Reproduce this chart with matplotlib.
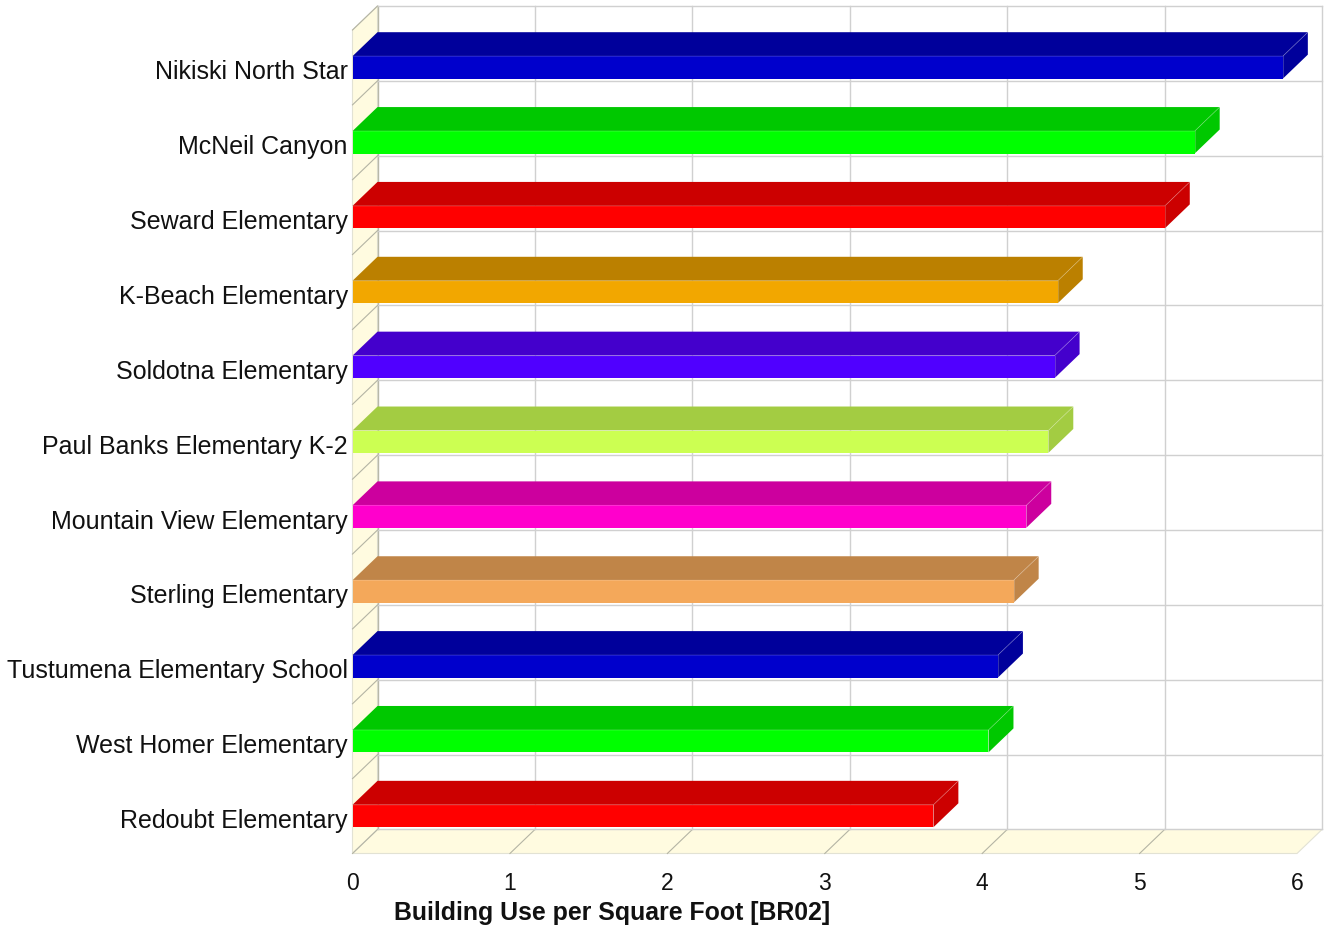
import matplotlib
matplotlib.use('Agg')
import matplotlib.pyplot as plt
from matplotlib.patches import Polygon
from matplotlib.transforms import ScaledTranslation

schools = ['Redoubt Elementary', 'West Homer Elementary', 'Tustumena Elementary School',
           'Sterling Elementary', 'Mountain View Elementary', 'Paul Banks Elementary K-2',
           'Soldotna Elementary', 'K-Beach Elementary', 'Seward Elementary',
           'McNeil Canyon', 'Nikiski North Star']
building_use = [3.69, 4.04, 4.10, 4.20, 4.28, 4.42, 4.46, 4.48, 5.16, 5.35, 5.91]
x_ticks = [0, 1, 2, 3, 4, 5, 6]

front_colors = ['#FF0000', '#00FF00', '#0000CC', '#F4A85A', '#FF00CC', '#CCFF52',
                '#5000FF', '#F2A700', '#FF0000', '#00FF00', '#0000CC']
top_colors = ['#CC0000', '#00C800', '#00009B', '#C08548', '#CC009E', '#A3CC42',
              '#4400CC', '#BB8000', '#CC0000', '#00C800', '#00009B']

W, H = 1325, 926
plt.rcParams['font.family'] = ['Liberation Sans', 'DejaVu Sans']

fig = plt.figure(figsize=(W / 100, H / 100), dpi=100)
# front plane of the fake 3D box
ax = fig.add_axes([352.5 / W, (H - 853.5) / H, 944.5 / W, 823.5 / H])
ax.set_xlim(0, 6)
ax.set_ylim(-0.5, 10.5)

dx = 25 / 157.4   # depth offset, data units
dy = 24 / 74.86
bar_h = 0.30
grid_c = '#D0D0D0'
wall_c = '#FFFBE0'
edge_c = '#E2E2D4'
diag_c = '#B4B4A4'
ymin, ymax = -0.5, 10.5


def poly(pts, fc, ec='none', lw=0.8, z=1):
    ax.add_patch(Polygon(pts, closed=True, facecolor=fc, edgecolor=ec, linewidth=lw,
                         zorder=z, clip_on=False))


# left wall and floor
poly([(0, ymin), (dx, ymin + dy), (dx, ymax + dy), (0, ymax)], wall_c, edge_c)
poly([(0, ymin), (6, ymin), (6 + dx, ymin + dy), (dx, ymin + dy)], wall_c, edge_c)

# back wall grid
for t in x_ticks:
    c = '#B8B8A8' if t == 0 else grid_c
    ax.plot([t + dx, t + dx], [ymin + dy, ymax + dy], color=c, lw=1.0, zorder=2, clip_on=False)
    if t < 6:
        ax.plot([t, t + dx], [ymin, ymin + dy], color=diag_c, lw=0.8, zorder=2, clip_on=False)
for k in range(12):
    y = ymin + k
    ax.plot([dx, 6 + dx], [y + dy, y + dy], color=grid_c, lw=1.0, zorder=2, clip_on=False)
    if k > 0:
        ax.plot([0, dx], [y, y + dy], color=diag_c, lw=0.8, zorder=2, clip_on=False)

# bars
for i, v in enumerate(building_use):
    lo, hi = i - bar_h / 2, i + bar_h / 2
    poly([(0, hi), (dx, hi + dy), (v + dx, hi + dy), (v, hi)], top_colors[i], z=3)
    poly([(v, lo), (v + dx, lo + dy), (v + dx, hi + dy), (v, hi)], top_colors[i], z=3)
    poly([(0, lo), (v, lo), (v, hi), (0, hi)], front_colors[i], z=4)
    ax.plot([0, v, v + dx], [hi, hi, hi + dy], color='#FFFFFF', alpha=0.2, lw=0.7, zorder=5, clip_on=False)
    ax.plot([v, v], [lo, hi], color='#FFFFFF', alpha=0.2, lw=0.7, zorder=5, clip_on=False)

for s in ax.spines.values():
    s.set_visible(False)
ax.patch.set_visible(False)
ax.set_xticks(x_ticks)
ax.set_yticks(range(len(schools)))
ax.set_yticklabels(schools)
ax.tick_params(axis='both', length=0, colors='#111111')
ax.tick_params(axis='y', pad=3.5, labelsize=18)
ax.tick_params(axis='x', pad=13, labelsize=16.5)
shift = ScaledTranslation(0, -2.5 / 100, fig.dpi_scale_trans)
for lab in ax.get_yticklabels():
    lab.set_transform(lab.get_transform() + shift)

fig.text(612 / W, 1 - 913 / H, 'Building Use per Square Foot [BR02]', fontsize=17.9,
         fontweight='bold', ha='center', va='center', color='#111111')

fig.savefig('out.png', dpi=100, facecolor='white')
